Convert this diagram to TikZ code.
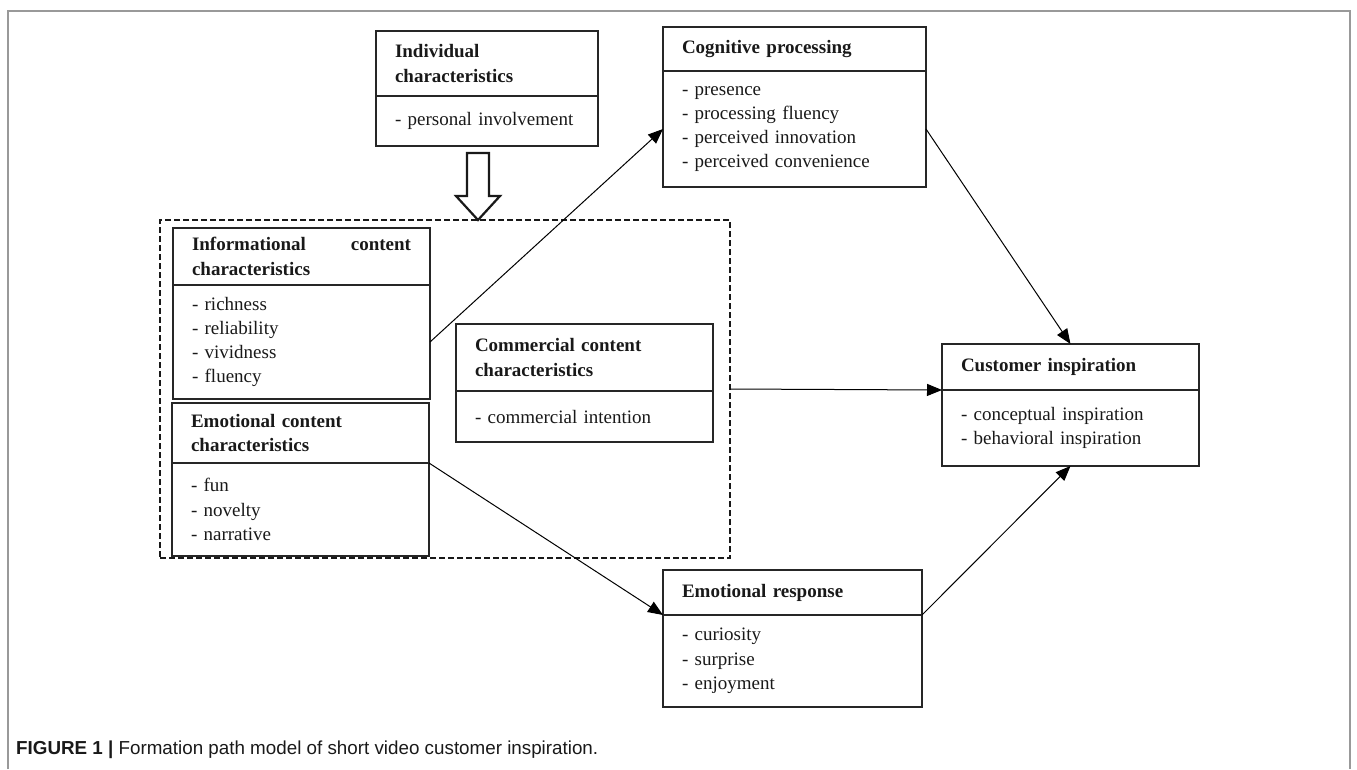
\documentclass[tikz,border=0pt]{standalone}
\usepackage{fontspec}
\setmainfont{Liberation Serif}
\newfontfamily\capfont{Liberation Sans}
\usepackage{tikz}
\usetikzlibrary{positioning,arrows.meta}

\tikzset{
  part/.style={draw=black!85, line width=1.3pt, rectangle, outer sep=0pt,
    inner xsep=19pt, inner ysep=0pt, align=left, text=black!90,
    font=\fontsize{19}{24.3}\selectfont},
  head/.style={part, font=\fontsize{19}{24.5}\selectfont\bfseries},
  dashbox/.style={draw=black!90, line width=2.2pt, dash pattern=on 6pt off 3pt,
    rectangle, outer sep=0pt, inner sep=0pt},
  link/.style={line width=1pt, -{Triangle[length=15pt,width=12pt]}},
  hollow/.style={line width=2.2pt, draw=black!90, fill=white},
}

\begin{document}
\begin{tikzpicture}[x=1pt, y=-1pt]
    \useasboundingbox (0,0) rectangle (1357,769);

    % Figure frame
    \draw[gray!80, line width=1.5pt] (8,769) -- (8,11) -- (1350,11) -- (1350,769);

    % Individual characteristics
    \node[head, text width=184pt, minimum height=65pt, anchor=north west] (indhead) at (376,31) {Individual\\characteristics};
    \node[part, text width=184pt, minimum height=50pt, below=0pt of indhead] (indbody) {- personal involvement};

    % Cognitive processing
    \node[head, text width=225pt, minimum height=44pt, anchor=north west] (coghead) at (663,27) {Cognitive processing};
    \node[part, text width=225pt, minimum height=116pt, below=0pt of coghead] (cogbody) {- presence\\- processing fluency\\- perceived innovation\\- perceived convenience};

    % Content characteristics (dashed group)
    \node[dashbox, minimum width=570pt, minimum height=338pt, anchor=north west] (content) at (160,220) {};

    \node[head, text width=219pt, minimum height=57pt, anchor=north west] (infohead) at (173,228) {Informational \hfill content\\characteristics};
    \node[part, text width=219pt, minimum height=114pt, below=0pt of infohead] (infobody) {- richness\\- reliability\\- vividness\\- fluency};

    \node[head, text width=219pt, minimum height=60pt, anchor=north west] (emohead) at (172,403) {Emotional content\\characteristics};
    \node[part, text width=219pt, minimum height=93pt, below=0pt of emohead] (emobody) {- fun\\- novelty\\- narrative};

    \node[head, text width=219pt, minimum height=67pt, anchor=north west] (comhead) at (456,324) {Commercial content\\characteristics};
    \node[part, text width=219pt, minimum height=51pt, below=0pt of comhead] (combody) {- commercial intention};

    % Customer inspiration
    \node[head, text width=219pt, minimum height=46pt, anchor=north west] (custhead) at (942,344) {Customer inspiration};
    \node[part, text width=219pt, minimum height=76pt, below=0pt of custhead] (custbody) {- conceptual inspiration\\- behavioral inspiration};

    % Emotional response
    \node[head, text width=221pt, minimum height=45pt, anchor=north west] (resphead) at (663,570) {Emotional response};
    \node[part, text width=221pt, minimum height=92pt, below=0pt of resphead] (respbody) {- curiosity\\- surprise\\- enjoyment};

    % Hollow arrow
    \draw[hollow] (467,153) -- (467,196) -- (456,196) -- (478,220) -- (500,196) -- (489,196) -- (489,153) -- cycle;

    % Paths
    \draw[link] (infobody.east) -- (cogbody.west);
    \draw[link] (cogbody.east) -- (custhead.north);
    \draw[link] (content.east) -- (custhead.south west);
    \draw[link] (emohead.south east) -- (resphead.south west);
    \draw[link] (resphead.south east) -- (custbody.south);

    % Caption
    \node[anchor=west, inner sep=0pt, font=\capfont\fontsize{18.8}{22}\selectfont, text=black!90] (caption) at (16,750) {\textbf{FIGURE 1 |} Formation path model of short video customer inspiration.};
\end{tikzpicture}
\end{document}
